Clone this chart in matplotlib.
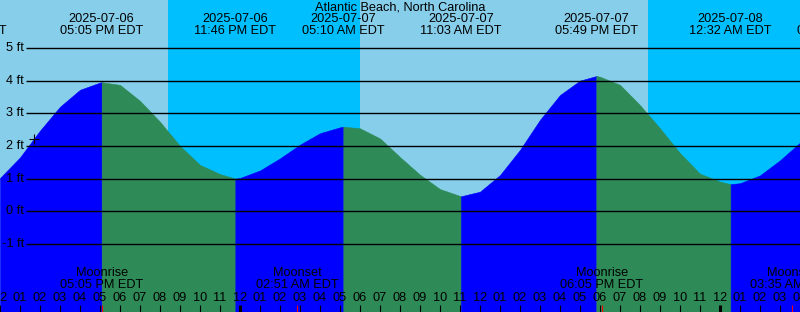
import matplotlib.pyplot as plt
import numpy as np

# hours counted from midnight 2025-07-06
hours = list(range(12, 53))
level_ft = [1.02, 1.65, 2.47, 3.20, 3.72, 3.94, 3.87, 3.38, 2.74, 2.00,
            1.42, 1.14, 1.02, 1.25, 1.62, 2.04, 2.39, 2.57, 2.54, 2.23,
            1.66, 1.12, 0.68, 0.47, 0.60, 1.11, 1.88, 2.80, 3.56, 4.00,
            4.12, 3.87, 3.25, 2.54, 1.78, 1.15, 0.91, 0.86, 1.10, 1.56,
            2.10]

event_hours = [17 + 5 / 60, 23 + 46 / 60, 29 + 10 / 60, 35 + 3 / 60, 41 + 49 / 60, 48 + 32 / 60]
event_levels = [3.95, 1.00, 2.59, 0.46, 4.14, 0.83]
event_dates = ["2025-07-06", "2025-07-06", "2025-07-07", "2025-07-07", "2025-07-07", "2025-07-08"]
event_times = ["05:05 PM EDT", "11:46 PM EDT", "05:10 AM EDT", "11:03 AM EDT", "05:49 PM EDT", "12:32 AM EDT"]

# events just outside the window (labels partly visible)
edge_hours = [10 + 15 / 60, 53 + 54 / 60]
edge_dates = ["2025-07-06", "2025-07-08"]
edge_times = ["10:15 AM EDT", "05:54 AM EDT"]

night_spans = [(20 + 25 / 60, 30.0), (44 + 23 / 60, 52.0)]

moon_hours = [17 + 5 / 60, 26 + 51 / 60, 42 + 5 / 60, 51 + 35 / 60]
moon_names = ["Moonrise", "Moonset", "Moonrise", "Moonset"]
moon_times = ["05:05 PM EDT", "02:51 AM EDT", "06:05 PM EDT", "03:35 AM EDT"]

now_hour = 13.7
now_level = 2.21

grid_ft = [5, 4, 3, 2, 1, 0, -1]

title = "Atlantic Beach, North Carolina"

W, H = 800, 312
ft_px = 32.67
zero_px = 211.3
y_top = zero_px / ft_px
y_bot = -(H - zero_px) / ft_px

def ay(py):
    return 1 - py / H

plt.rcParams['font.family'] = ['Liberation Sans', 'DejaVu Sans']
plt.rcParams['font.size'] = 9.2

fig = plt.figure(figsize=(W / 100, H / 100), dpi=100)
ax = fig.add_axes([0, 0, 1, 1])
ax.set_xlim(12, 52)
ax.set_ylim(y_bot, y_top)
ax.axis('off')

ax.axvspan(12, 52, color='#87CEEB', lw=0, zorder=0)
for a, b in night_spans:
    ax.axvspan(a, b, color='#00BFFF', lw=0, zorder=0)

t = np.array(hours + event_hours, dtype=float)
lv = np.array(level_ft + event_levels, dtype=float)
order = np.argsort(t)
t, lv = t[order], lv[order]

# blue while rising, green while falling
bounds = [12] + event_hours + [52]
rising = event_levels[0] > event_levels[1]
for i in range(len(bounds) - 1):
    m = (t >= bounds[i]) & (t <= bounds[i + 1])
    c = '#0000FF' if rising else '#2E8B57'
    ax.fill_between(t[m], y_bot, lv[m], color=c, lw=0.4, edgecolor=c, zorder=1)
    rising = not rising

xt = ax.get_xaxis_transform()
for g in grid_ft:
    ax.plot([13.3, 52], [g, g], color='black', lw=1.0, zorder=2, solid_capstyle='butt')
    ax.text(13.2, g, f"{g} ft", ha='right', va='center', zorder=3)

ax.text(32, ay(7.5), title, transform=xt, ha='center', va='center', zorder=3)

for h, d, s in zip(event_hours + edge_hours, event_dates + edge_dates, event_times + edge_times):
    ax.text(h, ay(19.5), d, transform=xt, ha='center', va='center', zorder=3)
    ax.text(h, ay(31.5), s, transform=xt, ha='center', va='center', zorder=3)

for h, n, s in zip(moon_hours, moon_names, moon_times):
    ax.text(h, ay(273.3), n, transform=xt, ha='center', va='center', zorder=3)
    ax.text(h, ay(285.5), s, transform=xt, ha='center', va='center', zorder=3)
    ax.plot([h, h], [0, ay(305)], transform=xt, color='red', lw=0.8, zorder=4, solid_capstyle='butt')

for h in hours:
    lw = 2.2 if h % 24 == 0 else 0.8
    ax.plot([h, h], [0, ay(305)], transform=xt, color='black', lw=lw, zorder=3, solid_capstyle='butt')
    ax.text(h, ay(298), f"{(h - 1) % 12 + 1:02d}", transform=xt, ha='center', va='center', zorder=3)

ax.plot([now_hour], [now_level], marker='+', color='black', ms=7, mew=0.8, zorder=4)

fig.savefig("out.png", dpi=100)
